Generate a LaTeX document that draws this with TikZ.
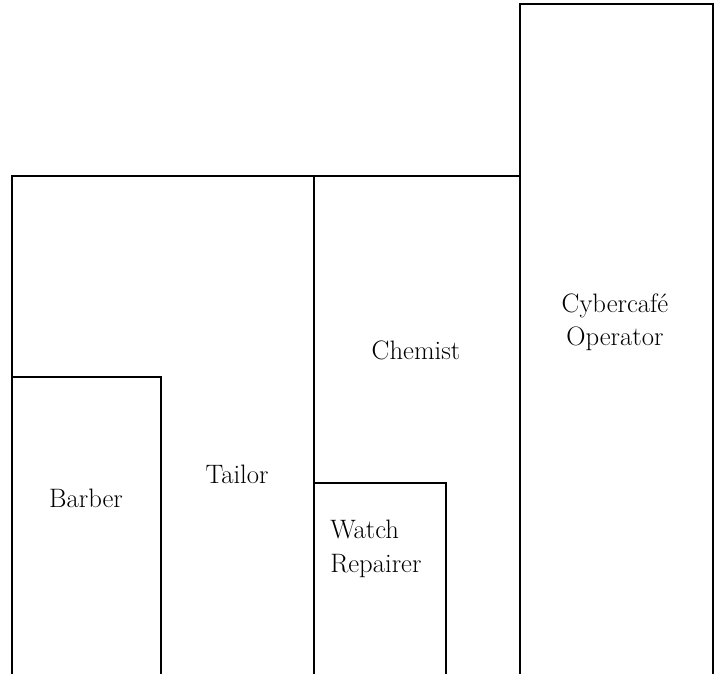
\documentclass[tikz,border=0pt]{standalone}
\usepackage{fontspec}
\begin{document}
\begin{tikzpicture}[x=0.75pt,y=-0.75pt,
  wall/.style={line width=1.7pt,line cap=rect,line join=miter},
  lbl/.style={inner sep=0pt,font=\fontsize{20}{25}\selectfont}]
\useasboundingbox (0,0) rectangle (719,674);
% outer left and top
\draw[wall] (12,674) -- (12,176) -- (520,176);
% cybercafe tall box
\draw[wall] (520,674) -- (520,4) -- (713,4) -- (713,674);
% tailor / chemist divider
\draw[wall] (314,176) -- (314,674);
% barber box
\draw[wall] (12,377) -- (161,377) -- (161,674);
% watch repairer box
\draw[wall] (314,483) -- (446,483) -- (446,674);
% labels
\node[lbl,anchor=base] (barber) at (86,507) {Barber};
\node[lbl,anchor=base] (tailor) at (237,483) {Tailor};
\node[lbl,anchor=base] (chemist) at (416,359) {Chemist};
\node[lbl,anchor=west,align=left] (watch) at (330,549) {Watch\\Repairer};
\node[lbl,align=center] (cyber) at (615,322) {Cybercafé\\Operator};
\end{tikzpicture}
\end{document}
